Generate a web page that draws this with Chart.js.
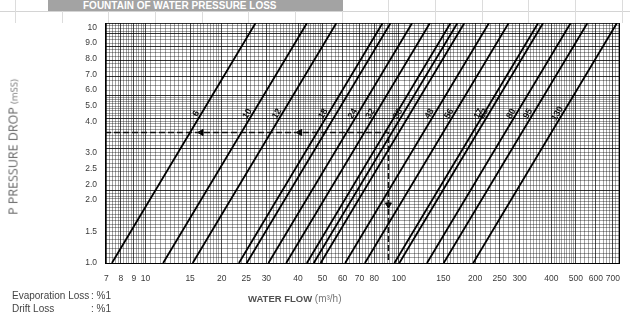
<!DOCTYPE html>
<html><head><meta charset="utf-8">
<script src="https://cdn.jsdelivr.net/npm/chart.js@4.4.1/dist/chart.umd.min.js"></script>
<style>
html,body{margin:0;padding:0;background:#fff;}
#wrap{position:relative;width:630px;height:315px;overflow:hidden;font-family:"Liberation Sans",Arial,sans-serif;}
#c{position:absolute;left:0;top:0;}
.vl{position:absolute;top:0;height:23px;width:1px;background:#dcdcdc;}
.hl{position:absolute;left:0;top:11px;width:630px;height:1px;background:#d4d4d4;}
#bar{position:absolute;left:48px;top:0;width:295px;height:11px;background:#a3a3a3;}
#bar span{position:absolute;left:35px;top:0;font-weight:bold;font-size:10px;line-height:11px;color:#fff;white-space:nowrap;}
#ytitle{position:absolute;left:13px;top:147px;transform:translate(-50%,-50%) rotate(-90deg);white-space:nowrap;font-family:"Open Sans","Liberation Sans",sans-serif;font-size:12.5px;font-weight:400;color:#666;}
#ytitle small{font-size:9.5px;color:#777;}
#xtitle{position:absolute;left:248px;top:293px;white-space:nowrap;font-size:9.5px;font-weight:bold;color:#505050;}
#xtitle span{font-weight:normal;font-size:10px;color:#777;}
.note{position:absolute;left:12px;font-size:10px;color:#444;white-space:nowrap;}
.note b{display:inline-block;width:79px;font-weight:normal;}
</style></head>
<body>
<div id="wrap">
  <div class="hl"></div>
  <div id="sheetcols"></div>
  <canvas id="c" width="630" height="315"></canvas>
  <div id="bar"><span>FOUNTAIN OF WATER PRESSURE LOSS</span></div>
  <div id="ytitle">P PRESSURE DROP <small>(mSS)</small></div>
  <div id="xtitle">WATER FLOW <span>(m³/h)</span></div>
  <div class="note" style="top:290px"><b>Evaporation Loss</b>: %1</div>
  <div class="note" style="top:303px"><b>Drift Loss</b>: %1</div>
</div>
<script>
// ---- data ----
const xTickLabels = ['7','8','9','10','15','20','25','30','40','50','60','70','80','100','150','200','250','300','400','500','600','700'];
const yTickLabels = ['10','9.0','8.0','7.0','6.0','5.0','4.0','','3.0','2.5','2.0','2.0','','1.5','','1.0'];
const lineNames = ['6','10','12','18','','24','32','','38','','48','56','17','63','80','95','130'];
const flowAt1m  = [7.37, 11.74, 15.36, 23.38, 25.11, 30.58, 35.93, 43.36, 46.15, 49.14, 61.44, 73.5, 96.1, 100.5, 129.2, 150.4, 196.7];
const flowAt10m = [27.2, 43.4, 56.7, 86.3, 92.8, 112.9, 132.7, 160.1, 170.4, 181.5, 227.0, 271.5, 355.0, 371.4, 477.0, 555.5, 726.4];
const pressureLow = 1;
const pressureHigh = 10;
const exampleFlow = 91;
const examplePressure = 3.5;
const arrowLeftFlows = [16.6, 40.7];
const arrowDownPressure = 1.75;

// ---- layout / style ----
const flowMin = 6.92, flowMax = 746;
const FONT = '"Liberation Sans", Arial, sans-serif';
const labelSet = new Set(xTickLabels.map(Number));

// spreadsheet column lines in header strip
(function(){
  const host = document.getElementById('sheetcols');
  for (let k = 0; k < 14; k++) {
    const d = document.createElement('div');
    d.className = 'vl';
    d.style.left = Math.round(15 + k * 46.67) + 'px';
    host.appendChild(d);
  }
})();

function steps(segs){
  const out = [];
  segs.forEach(([a,b,s]) => {
    const n = Math.round((b - a) / s);
    for (let k = 0; k < n; k++) out.push(Number((a + k * s).toFixed(3)));
  });
  return out;
}
const gridFlows = steps([[7,10,0.2],[10,20,0.5],[20,50,1],[50,100,2],[100,200,5],[200,500,10],[500,760,20]]);
const gridPressures = steps([[1,2,0.05],[2,5,0.1],[5,10,0.25]]).concat([10]);

const datasets = [];
flowAt1m.forEach((q, i) => {
  datasets.push({
    lineName: lineNames[i],
    data: [{x: q, y: pressureLow}, {x: flowAt10m[i], y: pressureHigh}],
    borderColor: '#000', borderWidth: 1.8, showLine: true, pointRadius: 0
  });
});
datasets.push({
  data: [{x: flowMin, y: examplePressure}, {x: exampleFlow, y: examplePressure}, {x: exampleFlow, y: pressureLow}],
  borderColor: '#111', borderWidth: 1.5, borderDash: [6, 3], showLine: true, pointRadius: 0
});
datasets.push({
  data: arrowLeftFlows.map(f => ({x: f, y: examplePressure})),
  showLine: false, pointStyle: 'triangle', rotation: -90, pointRadius: 3.5,
  backgroundColor: '#000', borderColor: '#000'
});
datasets.push({
  data: [{x: exampleFlow, y: arrowDownPressure}],
  showLine: false, pointStyle: 'triangle', rotation: 180, pointRadius: 3.5,
  backgroundColor: '#000', borderColor: '#000'
});

const lineLabelPlugin = {
  id: 'lineLabels',
  afterDatasetsDraw(chart){
    const {ctx, scales} = chart;
    const x = scales.x, y = scales.y;
    const yl = y.getPixelForValue(4.1);
    chart.data.datasets.forEach(ds => {
      if (!ds.lineName) return;
      const a = ds.data[0], b = ds.data[1];
      const x1 = x.getPixelForValue(a.x), y1 = y.getPixelForValue(a.y);
      const x2 = x.getPixelForValue(b.x), y2 = y.getPixelForValue(b.y);
      const t = (yl - y1) / (y2 - y1);
      const px = x1 + (x2 - x1) * t, py = y1 + (y2 - y1) * t;
      ctx.save();
      ctx.translate(px, py);
      ctx.rotate(Math.atan2(y2 - y1, x2 - x1));
      ctx.font = 'bold 9px ' + FONT;
      ctx.fillStyle = '#111';
      ctx.textAlign = 'center';
      ctx.textBaseline = 'bottom';
      ctx.fillText(ds.lineName, 0, 0);
      ctx.restore();
    });
  }
};

new Chart(document.getElementById('c'), {
  type: 'scatter',
  data: {datasets},
  plugins: [lineLabelPlugin],
  options: {
    responsive: false, animation: false, devicePixelRatio: 1,
    layout: {padding: {top: 23, right: 2, bottom: 0, left: 0}},
    plugins: {legend: {display: false}, tooltip: {enabled: false}},
    scales: {
      x: {
        type: 'logarithmic', position: 'bottom', min: flowMin, max: flowMax,
        afterBuildTicks: s => { s.ticks = gridFlows.map(v => ({value: v})); },
        afterFit: s => { s.height = 52; },
        ticks: {
          autoSkip: false, maxRotation: 0, minRotation: 0, padding: 11,
          font: {size: 8.5, family: FONT}, color: '#3a3a3a',
          callback: v => labelSet.has(v) ? String(v) : ''
        },
        grid: {
          drawTicks: false, lineWidth: 1,
          color: c => (c.tick && labelSet.has(c.tick.value)) ? 'rgba(0,0,0,0.7)' : 'rgba(0,0,0,0.36)'
        },
        border: {display: true, color: '#000', width: 1}
      },
      y: {
        type: 'logarithmic', position: 'right', min: pressureLow, max: pressureHigh,
        afterBuildTicks: s => { s.ticks = gridPressures.map(v => ({value: v})); },
        afterFit: s => { s.width = 0; },
        ticks: {display: false, autoSkip: false},
        grid: {
          drawTicks: false, lineWidth: 1,
          color: c => (c.tick && Number.isInteger(c.tick.value)) ? 'rgba(0,0,0,0.8)' : 'rgba(0,0,0,0.36)'
        },
        border: {display: true, color: '#000', width: 1}
      },
      yl: {
        type: 'linear', position: 'left', reverse: true, min: -0.27, max: 15,
        afterBuildTicks: s => { s.ticks = yTickLabels.map((_, i) => ({value: i})); },
        afterFit: s => { s.width = 105; },
        ticks: {
          autoSkip: false, padding: 8, font: {size: 8.5, family: FONT}, color: '#3a3a3a',
          callback: (v, i) => yTickLabels[i]
        },
        grid: {display: false, drawTicks: false},
        border: {display: true, color: '#000', width: 1}
      }
    }
  }
});
</script>
</body></html>
